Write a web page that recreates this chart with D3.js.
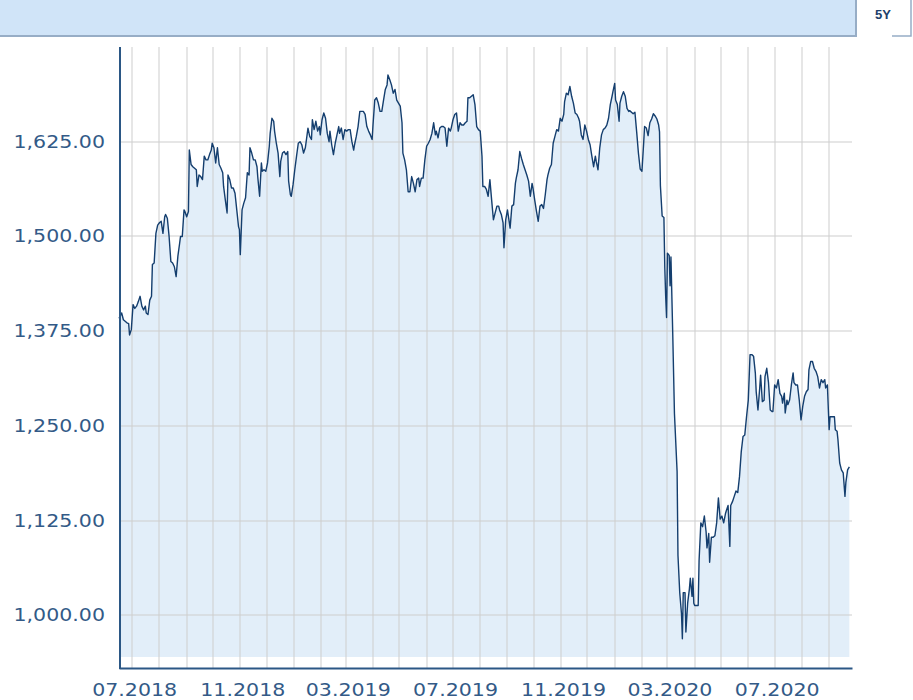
<!DOCTYPE html>
<html>
<head>
<meta charset="utf-8">
<script src="https://cdn.jsdelivr.net/npm/d3@7"></script>
<style>
  body { margin: 0; background: #fff; }
  svg { display: block; }
</style>
</head>
<body>
<svg id="chart" width="913" height="700"></svg>
<script>
// closing prices (date, close)
var prices2018 = [
  ['2018-06-16',1392],['2018-06-17',1394],['2018-06-19',1399],['2018-06-21',1390],['2018-06-23',1388],['2018-06-25',1386],['2018-06-27',1385],['2018-06-28',1370],['2018-06-30',1377],
  ['2018-07-02',1410],['2018-07-04',1405],['2018-07-06',1408],['2018-07-08',1414],['2018-07-10',1421],['2018-07-12',1408],['2018-07-14',1403],['2018-07-16',1408],['2018-07-17',1399],['2018-07-19',1397],['2018-07-21',1416],['2018-07-23',1421],['2018-07-24',1463],['2018-07-26',1465],['2018-07-28',1504],['2018-07-30',1515],
  ['2018-08-01',1518],['2018-08-03',1520],['2018-08-05',1504],['2018-08-07',1526],['2018-08-08',1529],['2018-08-10',1524],['2018-08-12',1500],['2018-08-14',1467],['2018-08-16',1465],['2018-08-18',1460],['2018-08-20',1447],['2018-08-22',1474],['2018-08-24',1491],['2018-08-25',1500],['2018-08-27',1500],['2018-08-29',1535],['2018-08-30',1533],
  ['2018-09-01',1526],['2018-09-03',1533],['2018-09-04',1614],['2018-09-06',1595],['2018-09-08',1592],['2018-09-10',1590],['2018-09-12',1588],['2018-09-13',1566],['2018-09-15',1581],['2018-09-17',1579],['2018-09-19',1575],['2018-09-21',1606],['2018-09-23',1601],['2018-09-25',1601],['2018-09-27',1608],['2018-09-29',1614],['2018-09-30',1623],
  ['2018-10-02',1617],['2018-10-04',1597],['2018-10-06',1617],['2018-10-08',1595],['2018-10-10',1590],['2018-10-12',1584],['2018-10-13',1566],['2018-10-15',1548],['2018-10-17',1531],['2018-10-18',1581],['2018-10-20',1575],['2018-10-22',1564],['2018-10-24',1564],['2018-10-26',1557],['2018-10-28',1535],['2018-10-30',1513],['2018-10-31',1509],
  ['2018-11-01',1476],['2018-11-03',1535],['2018-11-05',1544],['2018-11-07',1551],['2018-11-09',1584],['2018-11-11',1581],['2018-11-12',1617],['2018-11-14',1610],['2018-11-16',1601],['2018-11-18',1601],['2018-11-20',1592],['2018-11-21',1577],['2018-11-23',1553],['2018-11-25',1597],['2018-11-26',1586],['2018-11-28',1588],['2018-11-30',1586],
  ['2018-12-02',1597],['2018-12-04',1619],['2018-12-05',1636],['2018-12-07',1656],['2018-12-09',1652],['2018-12-10',1639],['2018-12-12',1623],['2018-12-14',1610],['2018-12-16',1579],['2018-12-17',1599],['2018-12-19',1610],['2018-12-21',1612],['2018-12-23',1608],['2018-12-25',1612],['2018-12-26',1573],['2018-12-28',1555],['2018-12-29',1553],['2018-12-31',1568]
];
var prices2019 = [
  ['2019-01-02',1588],['2019-01-04',1606],['2019-01-06',1623],['2019-01-08',1625],['2019-01-10',1621],['2019-01-12',1610],['2019-01-14',1617],['2019-01-16',1634],['2019-01-17',1643],['2019-01-19',1632],['2019-01-21',1628],['2019-01-22',1654],['2019-01-24',1641],['2019-01-26',1652],['2019-01-28',1639],['2019-01-30',1645],['2019-01-31',1634],
  ['2019-02-02',1654],['2019-02-04',1663],['2019-02-06',1656],['2019-02-08',1636],['2019-02-10',1625],['2019-02-11',1639],['2019-02-13',1621],['2019-02-15',1608],['2019-02-17',1623],['2019-02-19',1634],['2019-02-21',1645],['2019-02-22',1636],['2019-02-24',1643],['2019-02-26',1628],['2019-02-28',1641],
  ['2019-03-02',1639],['2019-03-04',1641],['2019-03-06',1641],['2019-03-08',1625],['2019-03-10',1614],['2019-03-11',1621],['2019-03-13',1632],['2019-03-15',1645],['2019-03-17',1665],['2019-03-19',1665],['2019-03-21',1665],['2019-03-23',1661],['2019-03-25',1645],['2019-03-27',1639],['2019-03-29',1634],['2019-03-31',1628],
  ['2019-04-01',1647],['2019-04-03',1680],['2019-04-05',1683],['2019-04-07',1676],['2019-04-09',1665],['2019-04-11',1665],['2019-04-13',1680],['2019-04-15',1694],['2019-04-17',1700],['2019-04-18',1713],['2019-04-20',1707],['2019-04-22',1700],['2019-04-24',1689],['2019-04-26',1694],['2019-04-28',1680],['2019-04-30',1676],
  ['2019-05-02',1672],['2019-05-04',1650],['2019-05-05',1610],['2019-05-07',1601],['2019-05-09',1588],['2019-05-11',1559],['2019-05-13',1559],['2019-05-15',1579],['2019-05-17',1570],['2019-05-19',1559],['2019-05-21',1575],['2019-05-23',1577],['2019-05-24',1566],['2019-05-26',1577],['2019-05-28',1577],['2019-05-30',1601],
  ['2019-06-01',1619],['2019-06-03',1623],['2019-06-05',1628],['2019-06-07',1636],['2019-06-09',1650],['2019-06-11',1634],['2019-06-12',1639],['2019-06-14',1630],['2019-06-16',1643],['2019-06-18',1645],['2019-06-20',1645],['2019-06-22',1643],['2019-06-24',1619],['2019-06-26',1643],['2019-06-28',1639],['2019-06-29',1643],
  ['2019-07-01',1654],['2019-07-03',1661],['2019-07-05',1663],['2019-07-07',1639],['2019-07-09',1650],['2019-07-11',1647],['2019-07-13',1647],['2019-07-15',1650],['2019-07-17',1652],['2019-07-18',1683],['2019-07-20',1683],['2019-07-22',1685],['2019-07-24',1687],['2019-07-26',1674],['2019-07-28',1645],['2019-07-30',1641],
  ['2019-08-01',1639],['2019-08-03',1606],['2019-08-04',1566],['2019-08-06',1566],['2019-08-08',1562],['2019-08-10',1553],['2019-08-12',1575],['2019-08-14',1548],['2019-08-16',1522],['2019-08-18',1531],['2019-08-20',1540],['2019-08-22',1540],['2019-08-23',1535],['2019-08-25',1529],['2019-08-27',1518],['2019-08-28',1485],['2019-08-30',1522],
  ['2019-09-01',1535],['2019-09-04',1511],['2019-09-06',1540],['2019-09-08',1542],['2019-09-10',1570],['2019-09-11',1577],['2019-09-13',1588],['2019-09-15',1612],['2019-09-17',1603],['2019-09-19',1595],['2019-09-21',1588],['2019-09-23',1581],['2019-09-25',1573],['2019-09-27',1553],['2019-09-29',1570],['2019-09-30',1564],
  ['2019-10-02',1548],['2019-10-04',1533],['2019-10-06',1520],['2019-10-08',1540],['2019-10-10',1542],['2019-10-12',1537],['2019-10-14',1555],['2019-10-16',1575],['2019-10-17',1581],['2019-10-19',1590],['2019-10-21',1595],['2019-10-23',1623],['2019-10-25',1632],['2019-10-27',1641],['2019-10-29',1639],['2019-10-31',1656],
  ['2019-11-02',1652],['2019-11-04',1661],['2019-11-05',1678],['2019-11-07',1689],['2019-11-09',1687],['2019-11-11',1698],['2019-11-13',1685],['2019-11-15',1676],['2019-11-17',1663],['2019-11-19',1661],['2019-11-21',1656],['2019-11-22',1652],['2019-11-24',1634],['2019-11-26',1628],['2019-11-28',1647],['2019-11-30',1639],
  ['2019-12-02',1628],['2019-12-04',1621],['2019-12-06',1606],['2019-12-08',1592],['2019-12-10',1606],['2019-12-11',1599],['2019-12-13',1588],['2019-12-15',1617],['2019-12-17',1634],['2019-12-19',1641],['2019-12-21',1643],['2019-12-23',1647],['2019-12-25',1656],['2019-12-27',1674],['2019-12-29',1685],['2019-12-30',1691]
];
var prices2020 = [
  ['2020-01-01',1702],['2020-01-02',1680],['2020-01-04',1674],['2020-01-06',1652],['2020-01-07',1676],['2020-01-09',1685],['2020-01-11',1691],['2020-01-13',1685],['2020-01-15',1669],['2020-01-17',1665],['2020-01-18',1666],['2020-01-22',1662],['2020-01-24',1664],['2020-01-26',1638],['2020-01-28',1610],['2020-01-30',1589],
  ['2020-02-01',1586],['2020-02-03',1624],['2020-02-04',1645],['2020-02-06',1643],['2020-02-08',1633],['2020-02-10',1650],['2020-02-12',1655],['2020-02-14',1662],['2020-02-16',1659],['2020-02-18',1655],['2020-02-20',1647],['2020-02-21',1638],['2020-02-22',1567],['2020-02-24',1527],['2020-02-26',1525],['2020-02-27',1459],['2020-02-28',1421],['2020-02-29',1393],
  ['2020-03-01',1478],['2020-03-03',1475],['2020-03-04',1435],['2020-03-05',1473],['2020-03-07',1374],['2020-03-09',1266],['2020-03-12',1190],['2020-03-13',1079],['2020-03-15',1030],['2020-03-17',1002],['2020-03-18',969],['2020-03-19',1030],['2020-03-21',1030],['2020-03-22',978],['2020-03-24',1016],['2020-03-26',1035],['2020-03-27',1049],['2020-03-29',1025],['2020-03-30',1049],['2020-03-31',1016],
  ['2020-04-01',1013],['2020-04-05',1013],['2020-04-06',1072],['2020-04-08',1122],['2020-04-10',1117],['2020-04-12',1131],['2020-04-14',1110],['2020-04-15',1089],['2020-04-17',1108],['2020-04-18',1070],['2020-04-20',1103],['2020-04-22',1103],['2020-04-24',1105],['2020-04-26',1122],['2020-04-28',1155],['2020-04-30',1127],
  ['2020-05-02',1131],['2020-05-04',1122],['2020-05-06',1134],['2020-05-07',1138],['2020-05-09',1145],['2020-05-11',1091],['2020-05-12',1145],['2020-05-14',1150],['2020-05-16',1157],['2020-05-18',1164],['2020-05-20',1162],['2020-05-22',1183],['2020-05-24',1216],['2020-05-26',1236],['2020-05-28',1238],['2020-05-30',1262],
  ['2020-06-01',1284],['2020-06-03',1344],['2020-06-05',1344],['2020-06-07',1342],['2020-06-09',1320],['2020-06-10',1295],['2020-06-12',1271],['2020-06-14',1300],['2020-06-15',1317],['2020-06-17',1282],['2020-06-19',1284],['2020-06-20',1315],['2020-06-22',1326],['2020-06-24',1307],['2020-06-26',1271],['2020-06-28',1269],['2020-06-29',1269],
  ['2020-07-01',1304],['2020-07-03',1300],['2020-07-05',1311],['2020-07-07',1293],['2020-07-09',1289],['2020-07-10',1280],['2020-07-12',1293],['2020-07-13',1267],['2020-07-15',1284],['2020-07-16',1278],['2020-07-18',1284],['2020-07-20',1304],['2020-07-22',1320],['2020-07-23',1307],['2020-07-25',1304],['2020-07-27',1304],['2020-07-29',1284],['2020-07-31',1258],
  ['2020-08-02',1276],['2020-08-04',1289],['2020-08-06',1295],['2020-08-08',1298],['2020-08-09',1324],['2020-08-11',1335],['2020-08-13',1335],['2020-08-15',1326],['2020-08-17',1322],['2020-08-19',1315],['2020-08-21',1300],['2020-08-23',1311],['2020-08-25',1307],['2020-08-27',1311],['2020-08-28',1300],['2020-08-30',1304],
  ['2020-09-01',1245],['2020-09-02',1262],['2020-09-04',1262],['2020-09-07',1262],['2020-09-08',1245],['2020-09-10',1243],['2020-09-11',1232],['2020-09-13',1201],['2020-09-15',1192],['2020-09-17',1188],['2020-09-19',1157],['2020-09-20',1175],['2020-09-22',1192],['2020-09-24',1196]
];

var yTicks = [1000, 1125, 1250, 1375, 1500, 1625];
var xTickDates = ['2018-07-01', '2018-11-01', '2019-03-01', '2019-07-01', '2019-11-01', '2020-03-01', '2020-07-01'];
var xStart = '2018-06-16', xEnd = '2020-09-27';
var yMin = 945, yMax = 1750;
var periodLabel = '5Y';

var parseDate = d3.timeParse('%Y-%m-%d');
var data = prices2018.concat(prices2019, prices2020).map(function(d) {
    return {date: parseDate(d[0]), close: d[1]};
});

var svg = d3.select('#chart');

// layout
var plot = {l: 119, r: 852, t: 47, b: 657};
var axisBottomY = 668;
var textStretch = 1.21;
var labelFont = '"DejaVu Sans", Verdana, sans-serif';
var labelColor = '#335a87';

var xScale = d3.scaleTime()
    .domain([parseDate(xStart), parseDate(xEnd)])
    .range([plot.l, plot.r]);
var yScale = d3.scaleLinear()
    .domain([yMin, yMax])
    .range([plot.b, plot.t]);

// header bar with period button
svg.append('rect')
    .attr('x', 0).attr('y', 0)
    .attr('width', 855).attr('height', 35)
    .attr('fill', '#d0e4f8');
svg.append('path')
    .attr('d', 'M0,36H856V0')
    .attr('fill', 'none')
    .attr('stroke', '#97adc6')
    .attr('stroke-width', 2);
svg.append('path')
    .attr('d', 'M892,36H911V0')
    .attr('fill', 'none')
    .attr('stroke', '#97adc6')
    .attr('stroke-width', 1.5);
svg.append('text')
    .attr('x', 883).attr('y', 19)
    .attr('text-anchor', 'middle')
    .style('font-family', '"Liberation Sans", Arial, sans-serif')
    .style('font-weight', 'bold')
    .style('font-size', '13px')
    .attr('fill', '#1d3f6b')
    .text(periodLabel);

// area under the price line
var area = d3.area()
    .x(function(d) { return xScale(d.date); })
    .y0(plot.b)
    .y1(function(d) { return yScale(d.close); });
svg.append('path')
    .datum(data)
    .attr('d', area)
    .attr('fill', '#e2eef9');

// grid
var gridG = svg.append('g')
    .attr('stroke', '#cdcdcd')
    .attr('stroke-opacity', 0.5)
    .attr('stroke-width', 2);
var months = d3.timeMonth.range(d3.timeMonth.ceil(xScale.domain()[0]), xScale.domain()[1]);
gridG.selectAll('.vgrid')
    .data(months)
    .enter().append('line')
    .attr('class', 'vgrid')
    .attr('x1', function(d) { return Math.round(xScale(d)); })
    .attr('x2', function(d) { return Math.round(xScale(d)); })
    .attr('y1', plot.t)
    .attr('y2', axisBottomY);
gridG.selectAll('.hgrid')
    .data(yTicks)
    .enter().append('line')
    .attr('class', 'hgrid')
    .attr('x1', plot.l)
    .attr('x2', plot.r)
    .attr('y1', function(d) { return Math.round(yScale(d)); })
    .attr('y2', function(d) { return Math.round(yScale(d)); });

// price line
var line = d3.line()
    .x(function(d) { return xScale(d.date); })
    .y(function(d) { return yScale(d.close); });
svg.append('path')
    .datum(data)
    .attr('d', line)
    .attr('fill', 'none')
    .attr('stroke', '#143e6e')
    .attr('stroke-width', 1.4)
    .attr('stroke-linejoin', 'round');

// y axis
var yAxis = d3.axisLeft(yScale)
    .tickValues(yTicks)
    .tickSize(0)
    .tickFormat(d3.format(',.2f'));
var yAxisG = svg.append('g')
    .attr('transform', 'translate(' + [plot.l + 1, 0] + ')')
    .call(yAxis);
yAxisG.select('.domain').remove();
yAxisG.selectAll('text')
    .attr('x', -15 / textStretch)
    .attr('transform', 'scale(' + textStretch + ',1)')
    .style('font-family', labelFont)
    .style('font-size', '17px')
    .attr('fill', labelColor);
svg.append('line')
    .attr('x1', plot.l + 1).attr('x2', plot.l + 1)
    .attr('y1', plot.t).attr('y2', axisBottomY + 1)
    .attr('stroke', '#2b5785')
    .attr('stroke-width', 2);

// x axis
var xAxis = d3.axisBottom(xScale)
    .tickValues(xTickDates.map(parseDate))
    .tickSize(0)
    .tickSizeOuter(0)
    .tickPadding(16)
    .tickFormat(d3.timeFormat('%m.%Y'));
var xAxisG = svg.append('g')
    .attr('transform', 'translate(' + [0, axisBottomY] + ')')
    .call(xAxis);
xAxisG.select('.domain')
    .attr('stroke', '#2b5785')
    .attr('stroke-width', 2);
xAxisG.selectAll('text')
    .attr('x', 2 / textStretch)
    .attr('transform', 'scale(' + textStretch + ',1)')
    .style('font-family', labelFont)
    .style('font-size', '17px')
    .attr('fill', labelColor);
</script>
</body>
</html>
